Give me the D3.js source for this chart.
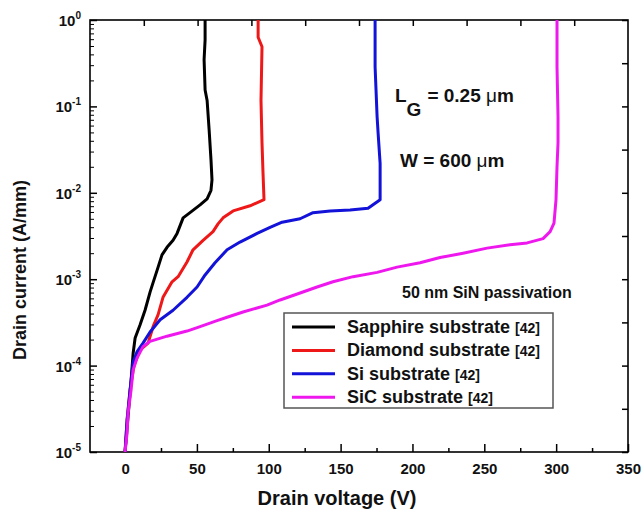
<!DOCTYPE html>
<html>
<head>
<meta charset="utf-8">
<script src="https://cdn.jsdelivr.net/npm/d3@7"></script>
<style>
body { margin: 0; background: #fff; }
svg text { font-family: Arial, "Liberation Sans", sans-serif; font-weight: bold; }
</style>
</head>
<body>
<svg width="643" height="513"></svg>
<script>
// drain voltage (V) / drain current (A/mm)
var sapphireV = [0, 4.2, 5.6, 7.0, 10.4, 13.9, 17.4, 19.5, 23.0, 25.7, 29.2, 33.4, 36.2, 40.4, 45.2, 52.2, 57.1, 59.8, 60.5, 59.8, 58.5, 57.1, 55.7, 55.0, 55.7, 55.7];
var sapphireI = [1e-5, 6.76e-5, 1.38e-4, 2.09e-4, 2.95e-4, 4.37e-4, 7.08e-4, 9.12e-4, 1.38e-3, 1.91e-3, 2.34e-3, 2.82e-3, 3.39e-3, 5.13e-3, 5.89e-3, 7.24e-3, 8.51e-3, 1.07e-2, 1.41e-2, 2.40e-2, 5.37e-2, 0.117, 0.155, 0.347, 0.589, 1];

var diamondV = [0, 1.4, 3.5, 6.3, 10.4, 16.0, 19.5, 23.0, 26.4, 32.7, 36.9, 43.1, 47.3, 54.3, 61.2, 64.7, 68.2, 75.2, 87.0, 96.7, 96.0, 95.3, 94.6, 95.3, 92.6, 92.6];
var diamondI = [1e-5, 2.34e-5, 5.25e-5, 1.02e-4, 1.51e-4, 1.82e-4, 2.82e-4, 3.89e-4, 6.17e-4, 9.33e-4, 1.07e-3, 1.58e-3, 2.19e-3, 2.82e-3, 3.55e-3, 4.37e-3, 5.13e-3, 6.17e-3, 7.08e-3, 8.32e-3, 1.70e-2, 3.80e-2, 0.117, 0.49, 0.631, 1];

var siV = [0, 1.4, 3.5, 5.6, 8.4, 12.5, 17.4, 24.4, 33.4, 43.1, 50.1, 55.7, 62.6, 71.0, 80.0, 91.9, 100.9, 109.3, 121.8, 130.8, 142.7, 156.6, 169.1, 177.5, 177.5, 177.5, 176.1, 175.4, 174.0, 174.0];
var siI = [1e-5, 2.34e-5, 5.25e-5, 1.10e-4, 1.45e-4, 1.82e-4, 2.45e-4, 3.39e-4, 4.37e-4, 6.17e-4, 8.13e-4, 1.12e-3, 1.55e-3, 2.19e-3, 2.69e-3, 3.39e-3, 3.98e-3, 4.57e-3, 5.01e-3, 5.89e-3, 6.17e-3, 6.31e-3, 6.61e-3, 8.32e-3, 1.29e-2, 2.19e-2, 4.90e-2, 7.59e-2, 0.288, 1];

var sicV = [0, 1.4, 2.1, 4.2, 5.6, 8.4, 12.5, 17.4, 29.2, 43.1, 52.2, 64.0, 71.0, 82.1, 98.8, 107.9, 121.8, 133.6, 144.7, 158.7, 175.4, 189.3, 205.3, 219.2, 235.2, 251.9, 267.9, 279.8, 290.9, 295.8, 298.5, 299.9, 300.6, 301.3, 301.3, 300.6, 300.6];
var sicI = [1e-5, 1.66e-5, 2.82e-5, 5.25e-5, 8.9e-5, 1.23e-4, 1.66e-4, 1.91e-4, 2.19e-4, 2.51e-4, 2.82e-4, 3.31e-4, 3.63e-4, 4.17e-4, 5.01e-4, 5.75e-4, 6.92e-4, 8.13e-4, 9.33e-4, 1.07e-3, 1.20e-3, 1.38e-3, 1.55e-3, 1.78e-3, 2.0e-3, 2.29e-3, 2.51e-3, 2.63e-3, 2.95e-3, 3.55e-3, 4.47e-3, 8.32e-3, 2.0e-2, 3.80e-2, 7.59e-2, 0.288, 1];

var seriesNames = ["Sapphire substrate", "Diamond substrate", "Si substrate", "SiC substrate"];
var seriesRef = "[42]";
var xTicks = [0, 50, 100, 150, 200, 250, 300, 350];
var xMinor = [25, 75, 125, 175, 225, 275, 325];
var yExps = [0, -1, -2, -3, -4, -5];

var colors = ["#000000", "#ee1818", "#1212d8", "#ee18ee"];

var svg = d3.select("svg"),
    margin = {top: 20, right: 15, bottom: 61, left: 90},
    width = 643 - margin.left - margin.right,
    height = 513 - margin.top - margin.bottom;

var g = svg.append("g").attr("transform", "translate(" + margin.left + "," + margin.top + ")");

var x = d3.scaleLinear().domain([-24.4, 350]).range([0, width]);
var y = d3.scaleLog().domain([1e-5, 1]).range([height, 0]);

var series = [
  {v: sapphireV, i: sapphireI},
  {v: diamondV, i: diamondI},
  {v: siV, i: siI},
  {v: sicV, i: sicI}
];
series.forEach(function(s, k) {
  s.name = seriesNames[k];
  s.color = colors[k];
  s.pts = s.v.map(function(v, j) { return [v, s.i[j]]; });
});

// bottom axis: major + minor, ticks inward
g.append("g").attr("class", "axis")
  .attr("transform", "translate(0," + height + ")")
  .call(d3.axisBottom(x).tickValues(xTicks).tickSizeInner(-8).tickSizeOuter(0).tickPadding(11)
    .tickFormat(d3.format("d")))
  .call(function(a) {
    a.select(".domain").remove();
    a.selectAll("text").attr("font-size", 15).attr("fill", "#111");
    a.selectAll("line").attr("stroke-width", 1.5);
  });
g.append("g")
  .attr("transform", "translate(0," + height + ")")
  .call(d3.axisBottom(x).tickValues(xMinor).tickSizeInner(-4).tickSizeOuter(0).tickFormat(""))
  .call(function(a) { a.select(".domain").remove(); a.selectAll("line").attr("stroke-width", 1.5); });

// top axis: ten even divisions, no labels
var xTop = d3.scaleLinear().domain([0, 10]).range([0, width]);
g.append("g")
  .call(d3.axisTop(xTop).tickValues(d3.range(1, 10)).tickSizeInner(-6).tickSizeOuter(0).tickFormat(""))
  .call(function(a) { a.select(".domain").remove(); a.selectAll("line").attr("stroke-width", 1.5); });

// left axis: decades + minor
var majors = yExps.map(function(e) { return Math.pow(10, e); });
g.append("g")
  .call(d3.axisLeft(y).tickValues(majors).tickSizeInner(-7).tickSizeOuter(0).tickFormat(""))
  .call(function(a) { a.select(".domain").remove(); a.selectAll("line").attr("stroke-width", 1.5); });
var minors = y.ticks().filter(function(t) { return majors.indexOf(t) < 0; });
g.append("g")
  .call(d3.axisLeft(y).tickValues(minors).tickSizeInner(-4).tickSizeOuter(0).tickFormat(""))
  .call(function(a) { a.select(".domain").remove(); a.selectAll("line").attr("stroke-width", 1); });

// right axis: half-decade ticks
var halfDec = d3.range(0, 11).map(function(k) { return Math.pow(10, -k / 2); });
g.append("g")
  .attr("transform", "translate(" + width + ",0)")
  .call(d3.axisRight(y).tickValues(halfDec).tickSizeInner(-6).tickSizeOuter(0).tickFormat(""))
  .call(function(a) { a.select(".domain").remove(); a.selectAll("line").attr("stroke-width", 1.5); });

// y tick labels 10^n
var yl = g.append("g").selectAll("text").data(yExps).enter().append("text")
  .attr("x", -9)
  .attr("y", function(e) { return y(Math.pow(10, e)) + 6; })
  .attr("text-anchor", "end")
  .attr("font-size", 15)
  .attr("fill", "#111");
yl.append("tspan").text("10");
yl.append("tspan").attr("dy", -7).attr("font-size", 10).text(function(e) { return e; });

// frame
g.append("rect").attr("width", width).attr("height", height)
  .attr("fill", "none").attr("stroke", "#000").attr("stroke-width", 1.6);

// curves (SiC drawn last, on top)
var line = d3.line()
  .x(function(d) { return x(d[0]); })
  .y(function(d) { return y(d[1]); })
  .curve(d3.curveLinear);

g.append("g").selectAll("path").data(series).enter().append("path")
  .attr("d", function(s) { return line(s.pts); })
  .attr("fill", "none")
  .attr("stroke", function(s) { return s.color; })
  .attr("stroke-width", 3)
  .attr("stroke-linejoin", "round");

// axis titles
svg.append("text")
  .attr("x", margin.left + width / 2 - 22).attr("y", 505)
  .attr("text-anchor", "middle").attr("font-size", 20).attr("fill", "#111")
  .text("Drain voltage (V)");
svg.append("text")
  .attr("transform", "translate(26,270) rotate(-90)")
  .attr("text-anchor", "middle").attr("font-size", 18).attr("fill", "#111")
  .text("Drain current (A/mm)");

// annotations
var lg = svg.append("text").attr("x", 395).attr("y", 102).attr("font-size", 19).attr("fill", "#111");
lg.append("tspan").text("L");
lg.append("tspan").attr("dy", 14).text("G");
lg.append("tspan").attr("dy", -14).attr("dx", 6).text("= 0.25 ");
lg.append("tspan").attr("font-weight", "normal").text("\u03bc");
lg.append("tspan").text("m");

var wt = svg.append("text").attr("x", 400).attr("y", 167).attr("font-size", 19).attr("fill", "#111");
wt.append("tspan").text("W = 600 ");
wt.append("tspan").attr("font-weight", "normal").text("\u03bc");
wt.append("tspan").text("m");

svg.append("text").attr("x", 402).attr("y", 298).attr("font-size", 16).attr("fill", "#111")
  .text("50 nm SiN passivation");

// legend
var legend = svg.append("g").attr("transform", "translate(284,313)");
legend.append("rect").attr("width", 269).attr("height", 95)
  .attr("fill", "#fff").attr("stroke", "#555").attr("stroke-width", 1.5);
var items = legend.selectAll("g.item").data(series).enter().append("g")
  .attr("class", "item")
  .attr("transform", function(d, k) { return "translate(0," + (14 + k * 23.4) + ")"; });
items.append("line").attr("x1", 8).attr("x2", 51)
  .attr("stroke", function(d) { return d.color; }).attr("stroke-width", 3);
var it = items.append("text").attr("x", 63).attr("y", 6).attr("font-size", 18).attr("fill", "#111");
it.append("tspan").text(function(d) { return d.name; });
it.append("tspan").attr("dx", 5).attr("font-size", 14).text(seriesRef);
</script>
</body>
</html>
